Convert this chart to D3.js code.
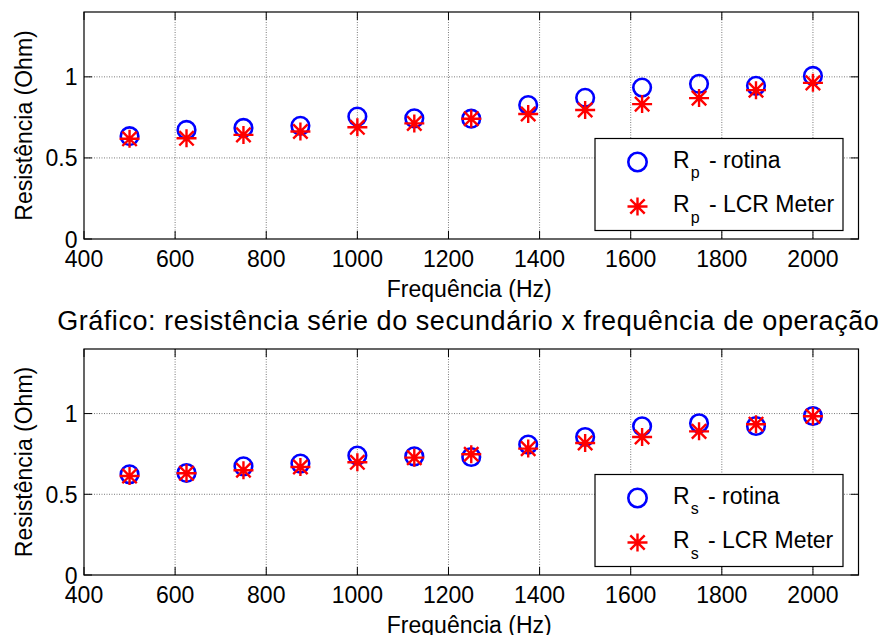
<!doctype html>
<html>
<head>
<meta charset="utf-8">
<title>Resistência x frequência</title>
<style>
  body { margin: 0; background: #fff; }
  svg { display: block; font-family: "Liberation Sans", Arial, sans-serif; }
  .grid line { stroke: #7a7a7a; stroke-width: 1; stroke-dasharray: 1,1.5; }
  .tick-label { font-size: 23px; fill: #000; }
</style>
<script src="https://d3js.org/d3.v7.min.js"></script>
</head>
<body>
<svg width="883" height="635"></svg>
<script>
// frequencies (Hz)
var FREQ = [500, 625, 750, 875, 1000, 1125, 1250, 1375, 1500, 1625, 1750, 1875, 2000];

// primary series resistance (Ohm)
var RP_ROTINA = [0.634, 0.673, 0.685, 0.698, 0.755, 0.744, 0.742, 0.826, 0.871, 0.934, 0.957, 0.945, 1.006];
var RP_LCR    = [0.618, 0.621, 0.642, 0.663, 0.689, 0.713, 0.742, 0.771, 0.796, 0.832, 0.869, 0.918, 0.963];

// secondary series resistance (Ohm)
var RS_ROTINA = [0.624, 0.632, 0.673, 0.690, 0.740, 0.735, 0.731, 0.808, 0.855, 0.921, 0.940, 0.923, 0.985];
var RS_LCR    = [0.613, 0.630, 0.649, 0.669, 0.698, 0.727, 0.748, 0.783, 0.818, 0.855, 0.890, 0.934, 0.983];

var X_TICKS = [400, 600, 800, 1000, 1200, 1400, 1600, 1800, 2000];
var Y_TICKS = [0, 0.5, 1];
var Y_TICK_LABELS = ["0", "0.5", "1"];

var X_DOMAIN = [400, 2100];
var Y_DOMAIN = [0, 1.4];

var svg = d3.select("svg");
var left = 84, right = 858.5;

// MATLAB style '*' marker: plus and cross together
function starPath(s) {
   var d = s * 0.72;
   return "M" + (-s) + ",0L" + s + ",0" +
          "M0," + (-s * 0.9) + "L0," + (s * 0.9) +
          "M" + (-d) + "," + (-d) + "L" + d + "," + d +
          "M" + (-d) + "," + d + "L" + d + "," + (-d);
}

function drawPanel(top, bottom, rotina, lcr, sub, title) {
   var xs = d3.scaleLinear().domain(X_DOMAIN).range([left, right]);
   var ys = d3.scaleLinear().domain(Y_DOMAIN).range([bottom, top]);
   var g = svg.append("g");
   var tickLen = 8;

   // grid
   var grid = g.append("g").attr("class", "grid");
   grid.selectAll(".gx").data(X_TICKS.slice(1)).enter().append("line")
      .attr("x1", function(d) { return xs(d); }).attr("x2", function(d) { return xs(d); })
      .attr("y1", top).attr("y2", bottom);
   grid.selectAll(".gy").data(Y_TICKS.slice(1)).enter().append("line")
      .attr("x1", left).attr("x2", right)
      .attr("y1", function(d) { return ys(d); }).attr("y2", function(d) { return ys(d); });

   // ticks on all four sides, pointing in
   var ticks = g.append("g").attr("stroke", "#000").attr("stroke-width", 1);
   X_TICKS.forEach(function(v) {
      ticks.append("line").attr("x1", xs(v)).attr("x2", xs(v)).attr("y1", bottom).attr("y2", bottom - tickLen);
      ticks.append("line").attr("x1", xs(v)).attr("x2", xs(v)).attr("y1", top).attr("y2", top + tickLen);
   });
   Y_TICKS.forEach(function(v) {
      ticks.append("line").attr("x1", left).attr("x2", left + tickLen).attr("y1", ys(v)).attr("y2", ys(v));
      ticks.append("line").attr("x1", right).attr("x2", right - tickLen).attr("y1", ys(v)).attr("y2", ys(v));
   });

   // box
   g.append("rect").attr("x", left).attr("y", top)
      .attr("width", right - left).attr("height", bottom - top)
      .attr("fill", "none").attr("stroke", "#000").attr("stroke-width", 1.2);

   // tick labels
   g.selectAll(".xl").data(X_TICKS).enter().append("text")
      .attr("class", "tick-label")
      .attr("x", function(d) { return xs(d); })
      .attr("y", bottom + 27.5)
      .attr("text-anchor", "middle")
      .text(function(d) { return d; });
   g.selectAll(".yl").data(Y_TICKS).enter().append("text")
      .attr("class", "tick-label")
      .attr("x", left - 6.5)
      .attr("y", function(d) { return ys(d) + 8.5; })
      .attr("text-anchor", "end")
      .text(function(d, i) { return Y_TICK_LABELS[i]; });

   // axis labels
   g.append("text")
      .attr("x", (left + right) / 2 - 2)
      .attr("y", bottom + 57.5)
      .attr("text-anchor", "middle")
      .style("font-size", "23px")
      .text("Frequência (Hz)");
   g.append("text")
      .attr("transform", "translate(31.5," + ((top + bottom) / 2) + ") rotate(-90)")
      .attr("text-anchor", "middle")
      .style("font-size", "23px")
      .text("Resistência (Ohm)");

   if (title) {
      g.append("text")
         .attr("x", (left + right) / 2 - 3)
         .attr("y", top - 19)
         .attr("text-anchor", "middle")
         .style("font-size", "27px")
         .style("letter-spacing", "0.55px")
         .text(title);
   }

   // data
   g.append("g").selectAll("circle").data(FREQ).enter().append("circle")
      .attr("cx", function(d) { return xs(d); })
      .attr("cy", function(d, i) { return ys(rotina[i]); })
      .attr("r", 8.8)
      .attr("fill", "none").attr("stroke", "#0000ff").attr("stroke-width", 2.6);
   g.append("g").selectAll("path").data(FREQ).enter().append("path")
      .attr("transform", function(d, i) { return "translate(" + xs(d) + "," + ys(lcr[i]) + ")"; })
      .attr("d", starPath(10))
      .attr("fill", "none").attr("stroke", "#ff0000").attr("stroke-width", 2.4);

   // legend
   var lx = 595, lw = 248, lh = 92;
   var ly = bottom - 8.5 - lh;
   var lg = g.append("g");
   lg.append("rect").attr("x", lx).attr("y", ly).attr("width", lw).attr("height", lh)
      .attr("fill", "#fff").attr("stroke", "#000").attr("stroke-width", 1.2);
   var rows = [{ text: " - rotina", kind: "o" }, { text: " - LCR Meter", kind: "*" }];
   rows.forEach(function(r, i) {
      var cy = ly + 23.5 + i * 44.5;
      if (r.kind === "o") {
         lg.append("circle").attr("cx", lx + 42.5).attr("cy", cy).attr("r", 9.2)
            .attr("fill", "none").attr("stroke", "#0000ff").attr("stroke-width", 2.6);
      } else {
         lg.append("path").attr("transform", "translate(" + (lx + 42.5) + "," + cy + ")")
            .attr("d", starPath(10))
            .attr("fill", "none").attr("stroke", "#ff0000").attr("stroke-width", 2.4);
      }
      var t = lg.append("text").attr("x", lx + 78).attr("y", cy + 5.5).style("font-size", "23px");
      t.append("tspan").text("R");
      t.append("tspan").attr("dy", 10.5).attr("dx", 1).style("font-size", "16px").text(sub);
      t.append("tspan").attr("dy", -10.5).attr("dx", 3).text(r.text);
   });
}

drawPanel(12, 239, RP_ROTINA, RP_LCR, "p", null);
drawPanel(349, 575, RS_ROTINA, RS_LCR, "s",
   "Gráfico: resistência série do secundário x frequência de operação");
</script>
</body>
</html>
